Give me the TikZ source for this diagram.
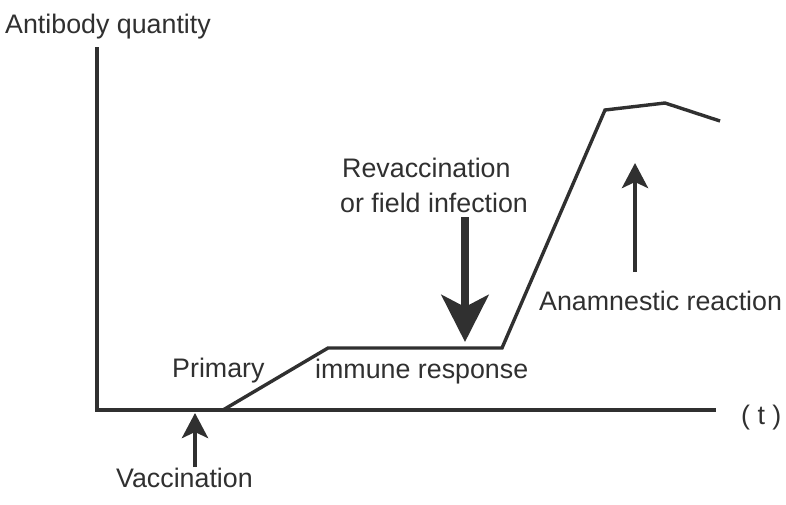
\documentclass[tikz,border=0pt]{standalone}
\usepackage{fontspec}
\setmainfont{Liberation Sans}
\usetikzlibrary{arrows.meta}
\definecolor{ink}{HTML}{303030}
\begin{document}
\begin{tikzpicture}[x=1pt,y=-1pt,
  lbl/.style={inner sep=0pt, text=ink, font=\fontsize{26.8}{31}\selectfont, anchor=base west},
  axisline/.style={draw=ink, line width=3.2pt, line join=miter},
  curveline/.style={draw=ink, line width=3.4pt, line join=miter},
  bigarrow/.style={draw=ink, fill=ink, line width=8pt, -{Stealth[length=47pt, width=47pt, inset=12pt]}},
  smallarrow/.style={draw=ink, fill=ink, line width=4.5pt, -{Stealth[length=25pt, width=26pt, inset=6pt]}}]
\useasboundingbox (0,0) rectangle (786,504);
\fill[white] (0,0) rectangle (786,504);
% axes
\coordinate (ytop) at (97,47);
\coordinate (orig) at (97,410);
\coordinate (xend) at (716,410);
\draw[axisline] (ytop) -- (orig) -- (xend);
% curve
\coordinate (c0) at (223,410);
\coordinate (c1) at (328,348);
\coordinate (c2) at (502,348);
\coordinate (c3) at (605,110);
\coordinate (c4) at (665,103);
\coordinate (c5) at (720,121);
\draw[curveline] (c0) -- (c1) -- (c2) -- (c3) -- (c4) -- (c5);
% labels
\node[lbl] (yl) at (5,33) {Antibody quantity};
\node[lbl] (tl) at (741,424) {( t )};
\node[lbl] (prim) at (172,377) {Primary};
\node[lbl] (imm) at (315,378) {immune response};
\node[lbl] (vac) at (116,487) {Vaccination};
\node[lbl] (rev1) at (342,177) {Revaccination};
\node[lbl] (rev2) at (340,212) {or field infection};
\node[lbl] (ana) at (539,310) {Anamnestic reaction};
% arrows
\coordinate (va0) at (195,467);
\coordinate (va1) at (195,413);
\draw[smallarrow] (va0) -- (va1);
\coordinate (ra0) at (465,217);
\coordinate (ra1) at (465,342);
\draw[bigarrow] (ra0) -- (ra1);
\coordinate (aa0) at (635,272);
\coordinate (aa1) at (635,163);
\draw[smallarrow] (aa0) -- (aa1);
\end{tikzpicture}
\end{document}
